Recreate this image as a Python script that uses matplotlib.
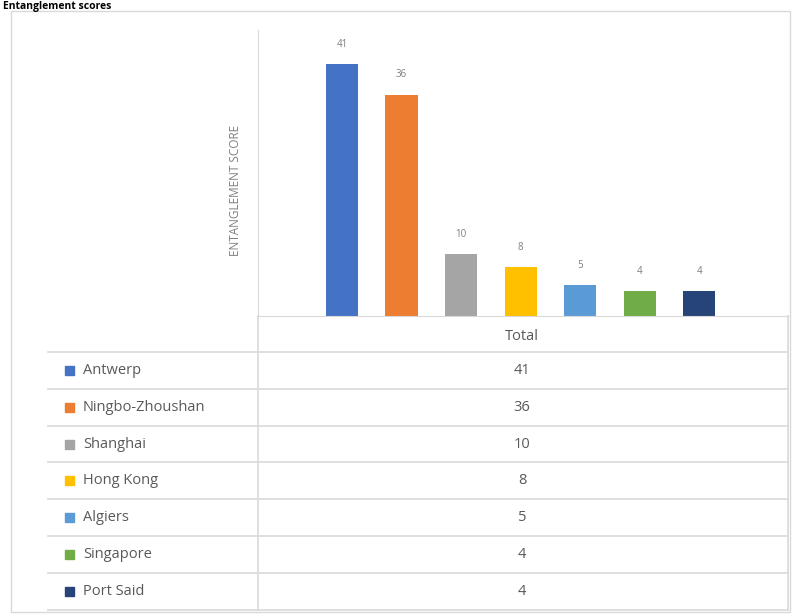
import matplotlib.pyplot as plt
from matplotlib.patches import Rectangle

ports = ["Antwerp", "Ningbo-Zhoushan", "Shanghai", "Hong Kong", "Algiers", "Singapore", "Port Said"]
scores = [41, 36, 10, 8, 5, 4, 4]
colors = ["#4472C4", "#ED7D31", "#A5A5A5", "#FFC000", "#5B9BD5", "#70AD47", "#264478"]
category = "Total"

W, H = 802, 615
fig = plt.figure(figsize=(W / 100, H / 100), dpi=100)
plt.rcParams['font.family'] = ['Open Sans', 'DejaVu Sans']

def fx(px):
    return px / W

def fy(py):
    return 1 - py / H

# outer frame
fig.patches.append(Rectangle((fx(11), fy(612)), fx(790) - fx(11), fy(11) - fy(612),
                             transform=fig.transFigure, fill=False, ec="#D9D9D9", lw=1))
# title
fig.text(fx(3), fy(0.5), "Entanglement scores", fontsize=7.5, fontweight="bold",
         ha="left", va="top")

# bar chart
ax = fig.add_axes([fx(258), fy(316), fx(788) - fx(258), fy(30) - fy(316)])
x = list(range(len(ports)))
bars = ax.bar(x, scores, width=0.54, color=colors)
for b, v in zip(bars, scores):
    ax.text(b.get_x() + b.get_width() / 2, v + 2.3, str(v), ha="center", va="bottom",
            fontsize=7, color="#7F7F7F")
ax.set_xlim(-1.41, 7.49)
ax.set_ylim(0, 46.5)
ax.set_xticks([])
ax.set_yticks([])
for s in ["top", "right"]:
    ax.spines[s].set_visible(False)
ax.spines["left"].set_color("#D9D9D9")
ax.spines["bottom"].set_color("#D9D9D9")
ax.set_ylabel("ENTANGLEMENT SCORE", fontsize=8.5, color="#7F7F7F")
ax.yaxis.set_label_coords(-0.03, 0.44)

# data table
tab_left, tab_mid, tab_right = 48, 258, 788
head_top, head_bot = 316, 352
row_h = 36.8
line_kw = dict(color="#D9D9D9", lw=1.2, transform=fig.transFigure)
fig.add_artist(plt.Line2D([fx(tab_mid), fx(tab_mid)], [fy(head_top), fy(head_bot + row_h * len(ports))], **line_kw))
fig.add_artist(plt.Line2D([fx(tab_right), fx(tab_right)], [fy(head_top), fy(head_bot + row_h * len(ports))], **line_kw))
fig.text(fx(522), fy(336), category, ha="center", va="center", fontsize=10.5, color="#595959")
for i, (p, v, c) in enumerate(zip(ports, scores, colors)):
    top = head_bot + i * row_h
    fig.add_artist(plt.Line2D([fx(tab_left), fx(tab_right)], [fy(top), fy(top)], **line_kw))
    yc = top + row_h / 2
    fig.patches.append(Rectangle((fx(65), fy(yc + 4.5)), fx(9), 9 / H, transform=fig.transFigure,
                                 color=c))
    fig.text(fx(83), fy(yc), p, ha="left", va="center", fontsize=10.5, color="#595959")
    fig.text(fx(522), fy(yc), str(v), ha="center", va="center", fontsize=10.5, color="#595959")
bottom = head_bot + row_h * len(ports)
fig.add_artist(plt.Line2D([fx(tab_left), fx(tab_right)], [fy(bottom), fy(bottom)], **line_kw))

fig.savefig("out.png", dpi=100)
